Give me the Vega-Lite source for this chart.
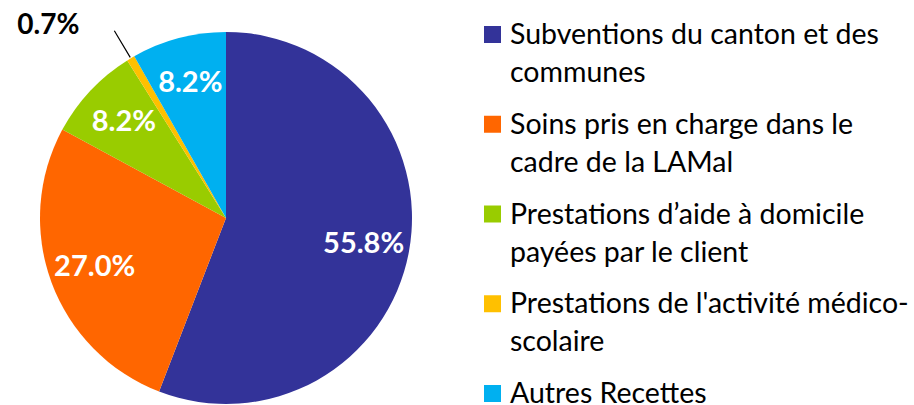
{
  "$schema": "https://vega.github.io/schema/vega-lite/v6.json",
  "padding": 0,
  "spacing": 0,
  "config": {"view": {"stroke": null}},
  "datasets": {
    "d": [
      {"ord": 1, "name": "Subventions du canton et des\ncommunes", "value": 55.8, "lbl": "55.8%"},
      {"ord": 2, "name": "Soins pris en charge dans le\ncadre de la LAMal", "value": 27.0, "lbl": "27.0%"},
      {"ord": 3, "name": "Prestations d’aide à domicile\npayées par le client", "value": 8.2, "lbl": "8.2%"},
      {"ord": 4, "name": "Prestations de l'activité médico-\nscolaire", "value": 0.7, "lbl": "0.7%"},
      {"ord": 5, "name": "Autres Recettes", "value": 8.2, "lbl": "8.2%"}
    ]
  },
  "hconcat": [
    {
      "width": 452,
      "height": 436,
      "data": {"name": "d"},
      "layer": [
        {
          "mark": {"type": "arc", "outerRadius": 186},
          "encoding": {
            "theta": {"field": "value", "type": "quantitative", "stack": true},
            "order": {"field": "ord", "type": "quantitative"},
            "color": {"field": "ord", "type": "nominal", "legend": null,
              "scale": {"domain": [1, 2, 3, 4, 5], "range": ["#333399", "#FF6600", "#99CC00", "#FFC000", "#00B0F0"]}}
          }
        },
        {
          "mark": {"type": "text", "radius": 140, "font": "Lato", "fontWeight": "bold", "fontSize": 29, "fill": "white", "align": "center", "baseline": "middle", "clip": true},
          "encoding": {
            "theta": {"field": "value", "type": "quantitative", "stack": true},
            "order": {"field": "ord", "type": "quantitative"},
            "text": {"field": "lbl"},
            "opacity": {"condition": {"test": "datum.ord === 4", "value": 0}, "value": 1}
          }
        },
        {
          "mark": {"type": "arc", "innerRadius": 187, "outerRadius": 218, "padAngle": 0.2, "fillOpacity": 0, "stroke": "black", "strokeWidth": 1.2, "clip": true},
          "encoding": {
            "theta": {"field": "value", "type": "quantitative", "stack": true},
            "order": {"field": "ord", "type": "quantitative"},
            "strokeOpacity": {"condition": {"test": "datum.ord === 4", "value": 1}, "value": 0}
          }
        },
        {
          "mark": {"type": "text", "radius": 216, "font": "Lato", "fontWeight": "bold", "fontSize": 28, "fill": "black", "align": "right", "baseline": "middle", "dx": -36, "dy": -6, "clip": true},
          "encoding": {
            "theta": {"field": "value", "type": "quantitative", "stack": true},
            "order": {"field": "ord", "type": "quantitative"},
            "text": {"field": "lbl"},
            "opacity": {"condition": {"test": "datum.ord === 4", "value": 1}, "value": 0}
          }
        }
      ]
    },
    {
      "width": 462,
      "height": 405,
      "data": {"name": "d"},
      "layer": [
        {
          "mark": {"type": "square", "size": 289, "filled": true, "opacity": 1},
          "encoding": {
            "x": {"datum": 40.5, "type": "quantitative", "scale": {"domain": [0, 462]}, "axis": null},
            "y": {"field": "ord", "type": "ordinal", "scale": {"type": "point", "range": [34.5, 393.5], "padding": 0}, "axis": null},
            "color": {"field": "ord", "type": "nominal", "legend": null,
              "scale": {"domain": [1, 2, 3, 4, 5], "range": ["#333399", "#FF6600", "#99CC00", "#FFC000", "#00B0F0"]}}
          }
        },
        {
          "mark": {"type": "text", "align": "left", "baseline": "alphabetic", "dy": 9.5, "lineBreak": "\n", "lineHeight": 38, "font": "Lato", "fontSize": 28.5, "fill": "black"},
          "encoding": {
            "x": {"datum": 58, "type": "quantitative", "scale": {"domain": [0, 462]}, "axis": null},
            "y": {"field": "ord", "type": "ordinal", "scale": {"type": "point", "range": [34.5, 393.5], "padding": 0}, "axis": null},
            "text": {"field": "name"}
          }
        }
      ]
    }
  ]
}
